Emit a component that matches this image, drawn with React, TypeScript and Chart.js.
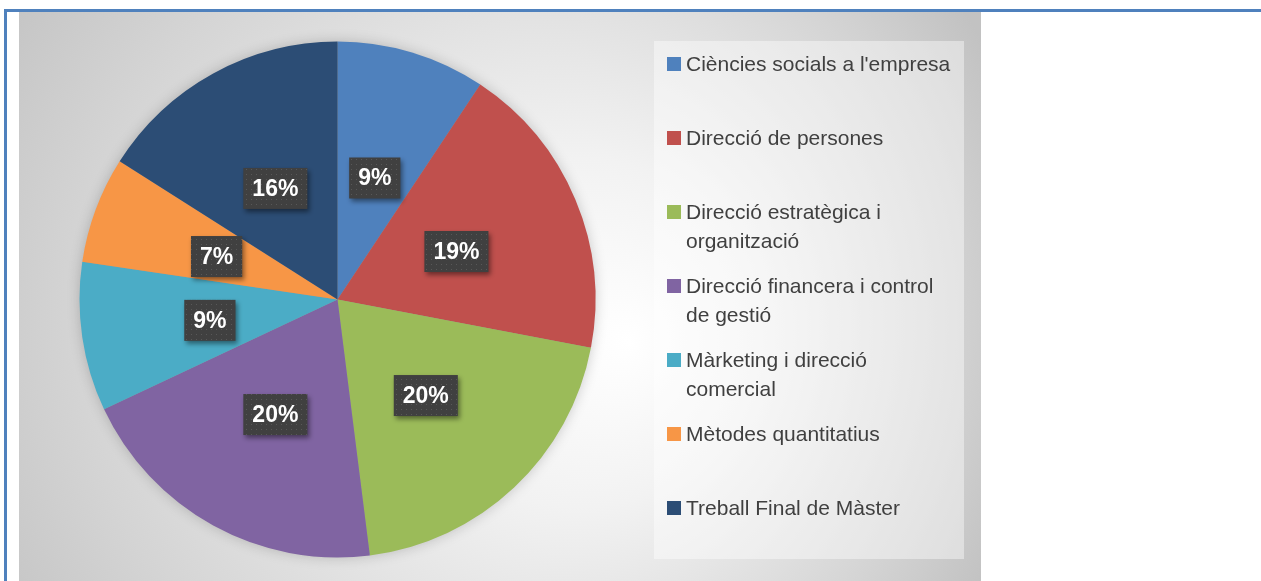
import React, { useEffect, useRef } from "react";
import { Chart, registerables } from "chart.js";

Chart.register(...registerables);

const categories: string[] = [
  "Ciències socials a l'empresa",
  "Direcció de persones",
  "Direcció estratègica i organització",
  "Direcció financera i control de gestió",
  "Màrketing i direcció comercial",
  "Mètodes quantitatius",
  "Treball Final de Màster",
];
const credits: number[] = [14, 28, 30, 30, 14, 10, 24];
const sliceColors: string[] = [
  "#4F81BD",
  "#C0504D",
  "#9BBB59",
  "#8064A2",
  "#4BACC6",
  "#F79646",
  "#2C4D75",
];

const CANVAS_W = 962;
const CANVAS_H = 569;

function wrapText(ctx: CanvasRenderingContext2D, text: string, maxW: number): string[] {
  const words = text.split(" ");
  const lines: string[] = [];
  let cur = "";
  for (const w of words) {
    const test = cur ? cur + " " + w : w;
    if (ctx.measureText(test).width > maxW && cur) {
      lines.push(cur);
      cur = w;
    } else {
      cur = test;
    }
  }
  if (cur) lines.push(cur);
  return lines;
}

const backgroundPlugin = {
  id: "bgPlugin",
  beforeDraw(chart: any) {
    const ctx: CanvasRenderingContext2D = chart.ctx;
    const w = chart.width;
    const h = chart.height;
    ctx.save();
    const g = ctx.createRadialGradient(610, 330, 0, 450, 300, 580);
    g.addColorStop(0, "#ffffff");
    g.addColorStop(0.3, "#f2f2f2");
    g.addColorStop(0.75, "#d4d4d4");
    g.addColorStop(1, "#c2c2c2");
    ctx.fillStyle = g;
    ctx.fillRect(0, 0, w, h);
    ctx.restore();
  },
  beforeDatasetsDraw(chart: any) {
    const ctx: CanvasRenderingContext2D = chart.ctx;
    const arc: any = chart.getDatasetMeta(0).data[0];
    if (!arc) return;
    ctx.save();
    ctx.shadowColor = "rgba(0,0,0,0.22)";
    ctx.shadowBlur = 14;
    ctx.fillStyle = "#999999";
    ctx.beginPath();
    ctx.arc(arc.x, arc.y, arc.outerRadius - 1, 0, Math.PI * 2);
    ctx.fill();
    ctx.restore();
  },
};

const labelPlugin = {
  id: "labelPlugin",
  afterDatasetsDraw(chart: any) {
    const ctx: CanvasRenderingContext2D = chart.ctx;
    const meta = chart.getDatasetMeta(0);
    const data: number[] = chart.data.datasets[0].data;
    const total = data.reduce((a, b) => a + b, 0);
    const tile = document.createElement("canvas");
    tile.width = 5;
    tile.height = 5;
    const t = tile.getContext("2d")!;
    t.fillStyle = "#404040";
    t.fillRect(0, 0, 5, 5);
    t.fillStyle = "#585858";
    t.fillRect(2, 2, 1, 1);
    const pattern = ctx.createPattern(tile, "repeat")!;
    ctx.save();
    ctx.font = "bold 23px 'Liberation Sans', Arial, sans-serif";
    meta.data.forEach((arc: any, i: number) => {
      const pos = arc.tooltipPosition();
      const cx = pos.x;
      const cy = pos.y + 2;
      const txt = Math.round((data[i] / total) * 100) + "%";
      const tw = ctx.measureText(txt).width;
      const bw = tw + 18;
      const bh = 41;
      const x = cx - bw / 2;
      const y = cy - bh / 2;
      ctx.save();
      ctx.shadowColor = "rgba(0,0,0,0.45)";
      ctx.shadowBlur = 5;
      ctx.shadowOffsetX = 2;
      ctx.shadowOffsetY = 3;
      ctx.fillStyle = pattern;
      ctx.fillRect(x, y, bw, bh);
      ctx.restore();
      ctx.fillStyle = "#ffffff";
      ctx.textAlign = "center";
      ctx.textBaseline = "middle";
      ctx.fillText(txt, cx, cy + 1);
    });
    ctx.restore();
  },
  afterDraw(chart: any) {
    const ctx: CanvasRenderingContext2D = chart.ctx;
    const labels: string[] = chart.data.labels;
    const colors: string[] = chart.data.datasets[0].backgroundColor;
    ctx.save();
    ctx.fillStyle = "rgba(255,255,255,0.42)";
    ctx.fillRect(635, 29, 310, 518);
    ctx.font = "21px 'Liberation Sans', Arial, sans-serif";
    ctx.textBaseline = "middle";
    ctx.textAlign = "left";
    const startY = 52;
    const step = 74;
    const lineH = 29;
    labels.forEach((lab, i) => {
      const cy = startY + i * step;
      ctx.fillStyle = colors[i];
      ctx.fillRect(648, cy - 7, 14, 14);
      ctx.fillStyle = "#404040";
      const lines = wrapText(ctx, lab, 272);
      lines.forEach((ln, j) => {
        ctx.fillText(ln, 667, cy + 1 + j * lineH);
      });
    });
    ctx.restore();
  },
};

export default function App() {
  const canvasRef = useRef<HTMLCanvasElement | null>(null);

  useEffect(() => {
    if (!canvasRef.current) return;
    const chart = new Chart(canvasRef.current, {
      type: "pie",
      data: {
        labels: categories,
        datasets: [
          {
            data: credits,
            backgroundColor: sliceColors,
            borderWidth: 0,
          },
        ],
      },
      options: {
        responsive: false,
        animation: false,
        devicePixelRatio: 1,
        layout: {
          padding: { left: 60.5, top: 29.5, right: 385.5, bottom: 23.5 },
        },
        plugins: {
          legend: { display: false },
          tooltip: { enabled: false },
        },
      },
      plugins: [backgroundPlugin, labelPlugin],
    });
    return () => chart.destroy();
  }, []);

  return (
    <div
      style={{
        position: "absolute",
        left: 0,
        top: 0,
        width: 1261,
        height: 581,
        overflow: "hidden",
        background: "#ffffff",
      }}
    >
      <div
        style={{
          position: "absolute",
          left: 4,
          top: 9,
          width: 1257,
          height: 3,
          background: "#4F81BD",
        }}
      />
      <div
        style={{
          position: "absolute",
          left: 4,
          top: 9,
          width: 3,
          height: 572,
          background: "#4F81BD",
        }}
      />
      <canvas
        ref={canvasRef}
        width={CANVAS_W}
        height={CANVAS_H}
        style={{
          position: "absolute",
          left: 19,
          top: 12,
          width: CANVAS_W,
          height: CANVAS_H,
        }}
      />
    </div>
  );
}
